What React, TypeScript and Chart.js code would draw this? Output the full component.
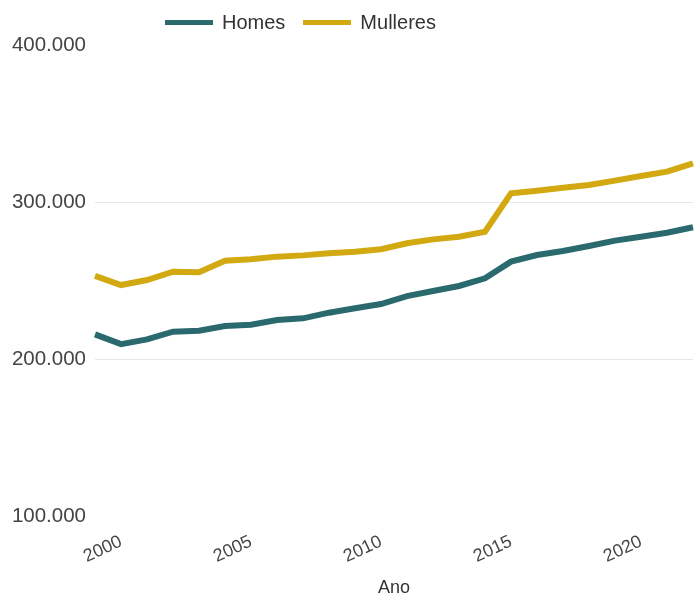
import React, { useEffect, useRef } from "react";
import { Chart, registerables } from "chart.js";

Chart.register(...registerables);

const years = ["1999","2000","2001","2002","2003","2004","2005","2006","2007","2008","2009","2010","2011","2012","2013","2014","2015","2016","2017","2018","2019","2020","2021","2022"];
const shownYears = ["2000", "2005", "2010", "2015", "2020"];
const homes = [215700, 209500, 212500, 217400, 218000, 221000, 221800, 224800, 225900, 229500, 232300, 235000, 240100, 243300, 246500, 251400, 262000, 266200, 268800, 272000, 275400, 277900, 280400, 283900];
const mulleres = [252900, 247100, 250300, 255600, 255200, 262600, 263500, 265200, 266000, 267300, 268300, 269900, 273700, 276200, 277900, 281100, 305500, 307200, 309100, 310800, 313600, 316600, 319300, 324600];
const seriesNames = ["Homes", "Mulleres"];
const colors = ["#2a6a6f", "#d3a912"];
const yTicks = [100000, 200000, 300000, 400000];

const FONT = "'Liberation Sans', Arial, sans-serif";
const fmt = (v: number) => String(Math.round(v)).replace(/\B(?=(\d{3})+(?!\d))/g, ".");

export default function App() {
  const ref = useRef<HTMLCanvasElement>(null);
  useEffect(() => {
    if (!ref.current) return;
    const chart = new Chart(ref.current, {
      type: "line",
      data: {
        labels: years,
        datasets: [
          { label: seriesNames[0], data: homes, borderColor: colors[0], backgroundColor: colors[0], borderWidth: 6, pointRadius: 0, tension: 0 },
          { label: seriesNames[1], data: mulleres, borderColor: colors[1], backgroundColor: colors[1], borderWidth: 6, pointRadius: 0, tension: 0 },
        ],
      },
      options: {
        responsive: false,
        animation: false,
        layout: { padding: { top: 45, right: 4, bottom: 0, left: 0 } },
        plugins: { legend: { display: false }, tooltip: { enabled: false } },
        scales: {
          x: {
            grid: { display: false },
            border: { display: false },
            ticks: {
              autoSkip: false,
              maxRotation: 25,
              minRotation: 25,
              padding: 7,
              color: "#444",
              font: { family: FONT, size: 18 },
              callback: (_v: any, i: number) => (shownYears.includes(years[i]) ? years[i] : ""),
            },
            title: { display: true, text: "Ano", color: "#333", font: { family: FONT, size: 18 }, padding: { top: 0, bottom: -3 } },
            afterFit: (s: any) => { s.height = 80; s.paddingRight = 0; s.paddingLeft = 0; },
          },
          y: {
            min: yTicks[0],
            max: yTicks[yTicks.length - 1],
            afterBuildTicks: (s: any) => { s.ticks = yTicks.map((v) => ({ value: v })); },
            grid: {
              drawTicks: false,
              color: (c: any) => (c.tick && (c.tick.value === 200000 || c.tick.value === 300000) ? "#e6e6e6" : "rgba(0,0,0,0)"),
            },
            border: { display: false },
            ticks: { padding: 9, color: "#444", font: { family: FONT, size: 20.5 }, callback: (v: any) => fmt(Number(v)) },
            afterFit: (s: any) => { s.width = 95; },
          },
        },
      },
    });
    return () => chart.destroy();
  }, []);

  return (
    <div style={{ position: "absolute", left: 0, top: 0, width: 697, height: 596, background: "#fff" }}>
      <canvas ref={ref} width={697} height={596} style={{ display: "block" }} />
      <div style={{ position: "absolute", left: 165, top: 10, height: 24, display: "flex", alignItems: "center", fontFamily: FONT, fontSize: 20, color: "#333" }}>
        {seriesNames.map((n, i) => (
          <div key={n} style={{ display: "flex", alignItems: "center", marginRight: 18 }}>
            <div style={{ width: 48, height: 5, background: colors[i], marginRight: 9 }} />
            <span>{n}</span>
          </div>
        ))}
      </div>
    </div>
  );
}
